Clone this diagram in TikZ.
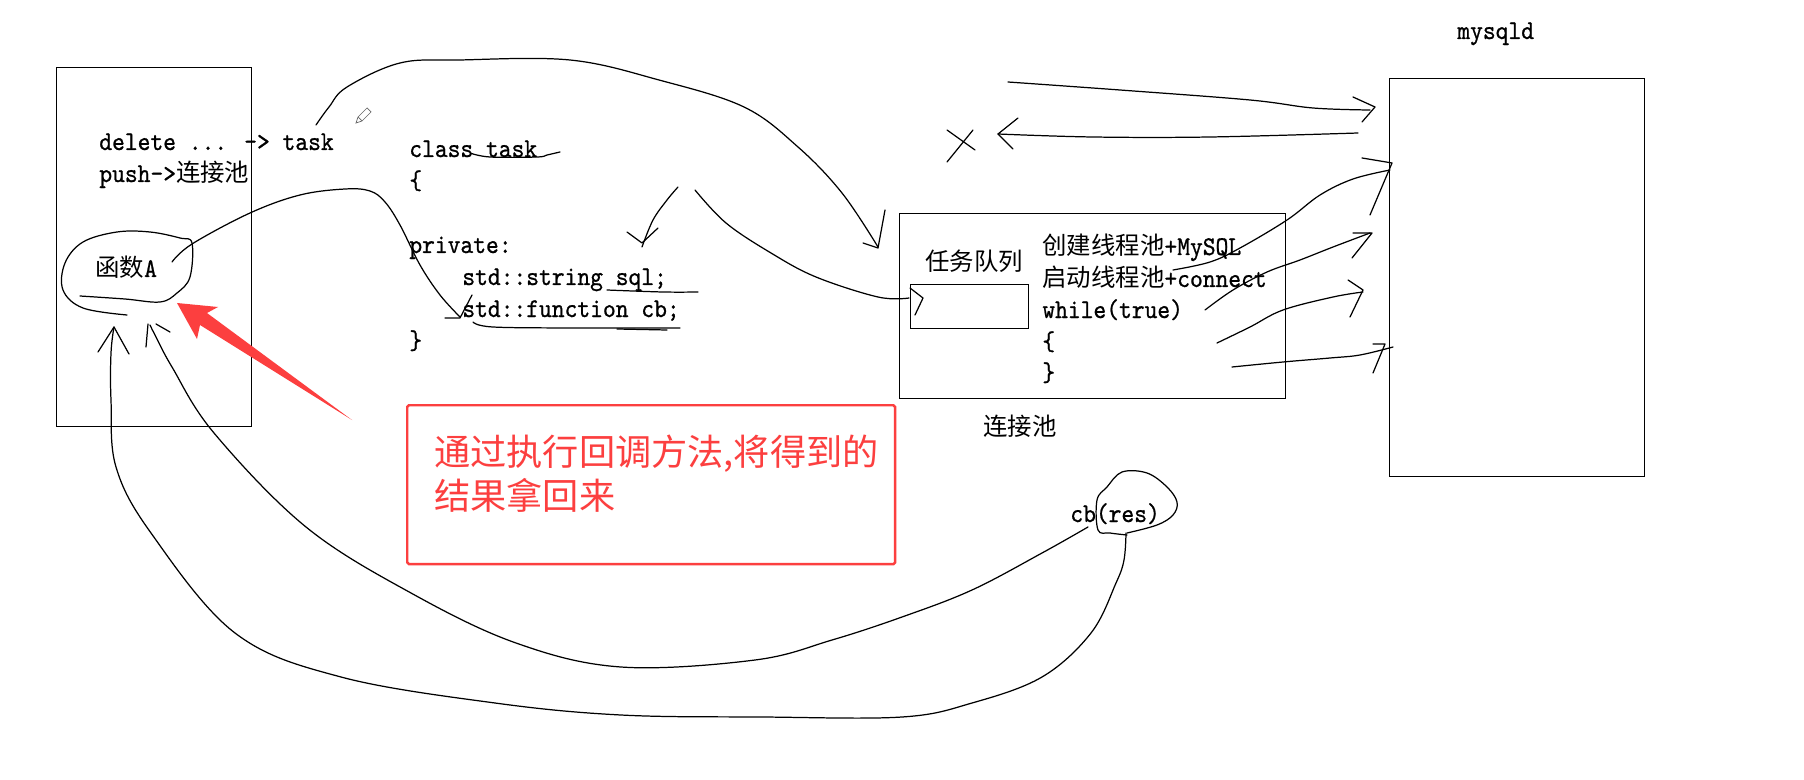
\documentclass[tikz,border=0pt]{standalone}
\usepackage{fontspec}
\newfontfamily\cjk{Noto Sans CJK SC}
\newfontfamily\codefont{lmmono10-regular.otf}[FakeStretch=0.9,FakeBold=0.8]
\newcommand\zh[1]{{\fontsize{13.9}{16}\selectfont\cjk #1}}
\definecolor{annot}{RGB}{252,63,63}
\tikzset{
  hand/.style={line width=0.7pt, line cap=round, line join=round},
  box/.style={draw, line width=0.8pt, inner sep=0pt, anchor=north west},
  code/.style={inner sep=0pt, anchor=base west, font=\fontsize{15.4}{17}\selectfont\codefont},
  cjklabel/.style={inner sep=0pt, anchor=base west, font=\fontsize{13.9}{16}\selectfont\cjk},
  note/.style={inner sep=0pt, anchor=base west, text=annot, font=\fontsize{20.6}{24}\selectfont\cjk},
}
\begin{document}
\begin{tikzpicture}[x=0.02cm, y=-0.02cm]
\fill[white] (0,0) rectangle (1804,780);
\useasboundingbox (0,0) rectangle (1804,780);

% boxes
\node[box, minimum width=3.9cm, minimum height=7.18cm] (lbox) at (56,67) {};
\node[box, minimum width=7.72cm, minimum height=3.7cm] (pool) at (899,213) {};
\node[box, minimum width=2.36cm, minimum height=0.88cm] (queue) at (910,284) {};
\node[box, minimum width=5.1cm, minimum height=7.96cm] (db) at (1389,78) {};
\node[box, draw=annot, line width=1.4pt, rounded corners=1pt, minimum width=9.76cm, minimum height=3.18cm] (redbox) at (406,404) {};

% texts left box
\node[code] (del) at (99,150) {delete ... -> task};
\node[code] (push) at (99,182) {push->\zh{连接池}};
\node[code] (fa) at (95,277) {\zh{函数}A};

% class task
\node[code] (c1) at (409,157) {class task};
\node[code] (c2) at (409,189) {\{};
\node[code] (c3) at (409,253) {private:};
\node[code] (c4) at (462,285) {std::string sql;};
\node[code] (c5) at (462,317) {std::function cb;};
\node[code] (c6) at (409,349) {\}};

% pool
\node[cjklabel] (ql) at (925,271) {任务队列};
\node[code] (p1) at (1042,255) {\zh{创建线程池}+MySQL};
\node[code] (p2) at (1042,287) {\zh{启动线程池}+connect};
\node[code] (p3) at (1042,318) {while(true)};
\node[code] (p4) at (1042,350) {\{};
\node[code] (p5) at (1042,381) {\}};
\node[cjklabel] (pl) at (983,435) {连接池};

\node[code] (my) at (1457,39) {mysqld};
\node[code] (cb) at (1070,522) {cb(res)};

% red note
\node[note] (n1) at (434,465) {通过执行回调方法,将得到的};
\node[note] (n2) at (434,509) {结果拿回来};
\fill[annot] (352,420) -- (207,313) -- (218,307) -- (177,303) -- (197,339) -- (200,325) -- cycle;

% loop around 函数A
\draw[hand] plot[smooth, tension=0.6] coordinates {(80,296) (125,299) (160,302) (177,293) (190,277) (192,243) (180,238) (150,232) (117,232) (83,242) (65,263) (63,290) (83,308) (127,315)};

% 函数A -> std::function cb
\draw[hand] plot[smooth, tension=0.6] coordinates {(172,262) (192,244) (250,213) (300,195) (345,189) (370,191) (385,202) (400,225) (420,265) (440,295) (460,317)};
\draw[hand] (445,318) -- (460,318) -- (472,295);

% underlines
\draw[hand] plot[smooth, tension=0.6] coordinates {(470,153) (490,157) (537,157) (547,155) (560,152)};
\draw[hand] plot[smooth, tension=0.6] coordinates {(607,290) (663,292) (698,292)};
\draw[hand] plot[smooth, tension=0.6] coordinates {(473,322) (493,327) (580,328) (680,328)};
\draw[hand] (617,329) -- (667,330);

% pencil cursor
\draw[line width=0.4pt, black!60] (356,123) -- (358,117) -- (367,108) -- (371,112) -- (362,121) -- cycle;
\draw[line width=0.4pt, black!60] (358,117) -- (362,121);

% task -> queue big arc
\draw[hand] plot[smooth, tension=0.6] coordinates {(316,125) (329,107) (347,87) (400,63) (459,60) (570,60) (659,80) (744,107) (798,147) (842,193) (878,247)};
\draw[hand] (863,243) -- (878,248) -- (885,210);

% arrow down-left
\draw[hand] plot[smooth, tension=0.6] coordinates {(678,187) (667,200) (653,220) (642,247)};
\draw[hand] (627,232) -- (642,243) -- (658,228);

% curve to queue
\draw[hand] plot[smooth, tension=0.6] coordinates {(695,190) (726,223) (771,253) (816,277) (878,297) (909,298)};
\draw[hand] (910,288) -- (923,298) -- (915,315);

% pool <-> mysqld
\draw[hand] plot[smooth, tension=0.6] coordinates {(1008,82) (1120,90) (1250,100) (1313,108) (1370,110)};
\draw[hand] (1353,97) -- (1375,107) -- (1362,122);
\draw[hand] plot[smooth, tension=0.6] coordinates {(1358,133) (1210,137) (1093,137) (998,134)};
\draw[hand] (1018,118) -- (998,134) -- (1013,149);
\draw[hand] (947,162) -- (973,130);
\draw[hand] (947,130) -- (975,150);

\draw[hand] plot[smooth, tension=0.6] coordinates {(1173,270) (1210,262) (1240,248) (1287,220) (1320,195) (1353,179) (1390,170)};
\draw[hand] (1362,158) -- (1392,163) -- (1370,215);
\draw[hand] plot[smooth, tension=0.6] coordinates {(1205,310) (1233,290) (1267,272) (1300,260) (1333,247) (1370,233)};
\draw[hand] (1353,233) -- (1372,233) -- (1352,258);
\draw[hand] plot[smooth, tension=0.6] coordinates {(1217,343) (1250,327) (1283,310) (1333,297) (1363,292)};
\draw[hand] (1348,280) -- (1363,290) -- (1350,317);
\draw[hand] plot[smooth, tension=0.6] coordinates {(1232,367) (1283,362) (1330,358) (1360,355) (1393,347)};
\draw[hand] (1373,344) -- (1385,344) -- (1373,373);

% loop around (res)
\draw[hand] plot[smooth, tension=0.6] coordinates {(1127,535) (1110,533) (1098,530) (1097,500) (1107,487) (1122,472) (1147,473) (1167,487) (1177,502) (1173,515) (1157,525) (1127,533)};

% outer return curve
\draw[hand] plot[smooth, tension=0.6] coordinates {(1126,533) (1124,560) (1116,583) (1091,633) (1042,677) (972,703) (902,717) (762,717) (621,715) (495,703) (341,677) (235,633) (151,533) (116,467) (111,400) (111,353) (114,327)};
\draw[hand] (98,352) -- (114,327) -- (129,354);

% inner return curve
\draw[hand] plot[smooth, tension=0.6] coordinates {(1088,527) (1042,553) (972,590) (902,617) (832,640) (755,660) (621,667) (516,643) (411,593) (306,527) (214,433) (172,367) (155,335) (150,325)};
\draw[hand] (146,347) -- (148,324);
\draw[hand] (156,324) -- (170,332);
\end{tikzpicture}
\end{document}
